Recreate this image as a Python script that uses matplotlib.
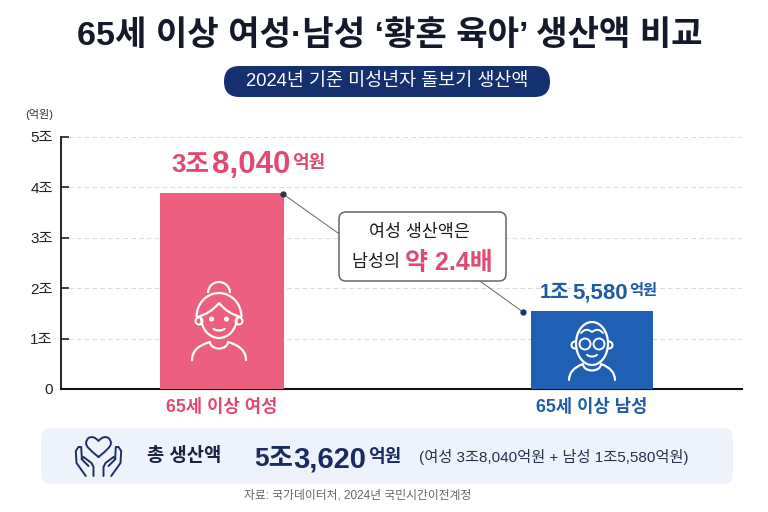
"""65세 이상 여성/남성 황혼 육아 생산액 비교 chart."""

import matplotlib

matplotlib.use("Agg")
import matplotlib.pyplot as plt
from matplotlib.patches import Arc, Circle, Ellipse, FancyBboxPatch, PathPatch
from matplotlib.path import Path

plt.rcParams["font.family"] = ["Liberation Sans", "Noto Sans CJK KR", "DejaVu Sans"]

CATEGORIES = ["65세 이상 여성", "65세 이상 남성"]
# bar heights as drawn in the picture, in 조원
BAR_VALUES = [3.88, 1.55]
Y_TICKS = [0, 1, 2, 3, 4, 5]
Y_TICK_LABELS = ["0", "1조", "2조", "3조", "4조", "5조"]

PINK = "#ec5f7f"
PINK_TEXT = "#e04a70"
BLUE = "#2060b4"
BLUE_TEXT = "#1f5ba6"
NAVY = "#14306f"
DARK = "#141a2a"

W, H = 768, 512
M, L, C = Path.MOVETO, Path.LINETO, Path.CURVE3


def text_runs(ax, x, y, runs):
    """Write (string, size, weight, color) runs one after another from x."""
    renderer = ax.figure.canvas.get_renderer()
    for s, size, weight, color in runs:
        t = ax.text(x, y, s, fontsize=size, fontweight=weight, color=color,
                    ha="left", va="center_baseline", zorder=10)
        box = t.get_window_extent(renderer)
        x += box.width


def curve(ax, verts, codes, color, lw=1.6, zorder=8):
    ax.add_patch(PathPatch(Path(verts, codes), edgecolor=color, facecolor="none",
                           lw=lw, zorder=zorder, capstyle="round", joinstyle="round"))


def shoulders(ax, cx, half, top, bottom, collar, color):
    curve(ax, [(cx - half, bottom), (cx - half, top + 5), (cx - collar, top),
               (cx + collar, top), (cx + half, top + 5), (cx + half, bottom)],
          [M, C, C, M, C, C], color)
    ax.add_patch(Arc((cx, top), collar * 2, 13, theta1=0, theta2=180,
                     color=color, lw=1.6, zorder=8))


def woman_icon(ax, cx, color="white"):
    ax.add_patch(Arc((cx, 293), 22, 22, theta1=180, theta2=360, color=color, lw=1.6, zorder=7))
    ax.add_patch(Arc((cx, 317), 45, 48, theta1=180, theta2=360, color=color, lw=1.6, zorder=8))
    # fringe
    curve(ax, [(cx - 22, 317), (cx - 9, 314), (cx, 303), (cx + 9, 314), (cx + 22, 317)],
          [M, C, C, C, C], color)
    # ears then face
    ax.add_patch(Circle((cx - 20, 321), 3.5, fc=PINK, ec=color, lw=1.4, zorder=7))
    ax.add_patch(Circle((cx + 20, 321), 3.5, fc=PINK, ec=color, lw=1.4, zorder=7))
    ax.add_patch(Arc((cx, 317), 36, 42, theta1=0, theta2=180, color=color, lw=1.6, zorder=8))
    ax.add_patch(Circle((cx - 7.5, 319), 1.8, color=color, zorder=9))
    ax.add_patch(Circle((cx + 7.5, 319), 1.8, color=color, zorder=9))
    ax.add_patch(Arc((cx, 328), 11, 5, theta1=0, theta2=180, color=color, lw=1.6, zorder=9))
    shoulders(ax, cx, 27, 342, 360, 9, color)


def man_icon(ax, cx, color="white"):
    ax.add_patch(Circle((cx - 17, 345), 3.5, fc=BLUE, ec=color, lw=1.5, zorder=7))
    ax.add_patch(Circle((cx + 17, 345), 3.5, fc=BLUE, ec=color, lw=1.5, zorder=7))
    ax.add_patch(Ellipse((cx, 343.5), 32, 43, fc=BLUE, ec=color, lw=1.6, zorder=8))
    curve(ax, [(cx - 11, 333), (cx - 6, 327), (cx, 332), (cx + 6, 327), (cx + 11, 333)],
          [M, C, C, C, C], color, lw=1.4)
    ax.add_patch(Circle((cx - 7, 344), 5.5, fc=BLUE, ec=color, lw=1.4, zorder=9))
    ax.add_patch(Circle((cx + 7, 344), 5.5, fc=BLUE, ec=color, lw=1.4, zorder=9))
    ax.add_patch(Arc((cx, 354), 10, 5, theta1=0, theta2=180, color=color, lw=1.5, zorder=9))
    shoulders(ax, cx, 23, 364, 380, 9, color)


def hands_icon(ax, cx, color="#1f2f66"):
    # heart
    curve(ax, [(cx, 457), (cx - 6, 452), (cx - 10, 448), (cx - 15, 443), (cx - 10, 438),
               (cx - 5, 435), (cx, 441), (cx + 5, 435), (cx + 10, 438), (cx + 15, 443),
               (cx + 10, 448), (cx + 6, 452), (cx, 457)],
          [M, L, L, C, C, C, C, C, C, C, C, L, L], color, lw=1.4)
    # two hands, mirrored about cx
    for sgn in (-1, 1):
        outer = [(5, 476), (5, 467), (7, 463), (15, 457), (17, 459), (10, 466)]
        thumb = [(12.7, 476), (22, 463), (22.7, 451), (20, 447), (17.3, 447), (16.7, 458)]
        for pts in (outer, thumb):
            curve(ax, [(cx + sgn * a, b) for a, b in pts], [M] + [L] * (len(pts) - 1),
                  color, lw=1.4)


fig = plt.figure(figsize=(W / 100, H / 100), dpi=100, facecolor="white")
fig.canvas.draw()

# chart axes: x 61-742 px, y 389-137 px
ax = fig.add_axes([61 / W, 1 - 389 / H, 681 / W, 252 / H], zorder=1)
ax.set_xlim(-0.435, 1.405)
ax.set_ylim(0, 5)
ax.bar([0], BAR_VALUES[0], width=0.335, color=PINK, zorder=3)
ax.bar([1], BAR_VALUES[1], width=0.33, color=BLUE, zorder=3)
ax.set_yticks(Y_TICKS)
ax.set_yticklabels(Y_TICK_LABELS, fontsize=11, color="#222222")
ax.tick_params(axis="y", direction="in", length=6, width=1.2, pad=6, color="#222222")
ax.set_xticks([0, 1])
ax.set_xticklabels(CATEGORIES, fontsize=12.8, fontweight="bold")
ax.get_xticklabels()[0].set_color(PINK_TEXT)
ax.get_xticklabels()[1].set_color(BLUE_TEXT)
ax.tick_params(axis="x", length=0, pad=7)
ax.yaxis.grid(True, color="#dddddd", linestyle=(0, (4, 3)), lw=0.8, zorder=0)
ax.set_axisbelow(True)
for spine in ("top", "right"):
    ax.spines[spine].set_visible(False)
ax.spines["left"].set_linewidth(1.4)
ax.spines["left"].set_color("#222222")
ax.spines["bottom"].set_linewidth(1.5)
ax.spines["bottom"].set_color("#111111")

# full figure layer in pixel coordinates for the infographic parts
bg = fig.add_axes([0, 0, 1, 1], zorder=2)
bg.set_xlim(0, W)
bg.set_ylim(H, 0)
bg.axis("off")

bg.text(39, 115, "(억원)", fontsize=8, color="#333333", ha="center", va="center")

# title and pill
bg.text(390, 36, "65세 이상 여성·남성 ‘황혼 육아’ 생산액 비교", fontsize=24.6,
        fontweight="bold", color=DARK, ha="center", va="center")
bg.add_patch(FancyBboxPatch((224, 66), 326, 31, boxstyle="round,pad=0,rounding_size=15.5",
                            fc=NAVY, ec="none", zorder=3))
bg.text(387, 81.5, "2024년 기준 미성년자 돌보기 생산액", fontsize=13.3, color="white",
        fontweight="medium", ha="center", va="center", zorder=4)

# value labels
text_runs(bg, 171, 162, [("3조", 18.5, "bold", PINK_TEXT), (" ", 8, "bold", PINK_TEXT),
                         ("8,040", 22.5, "bold", PINK_TEXT), (" ", 5, "bold", PINK_TEXT),
                         ("억원", 13, "bold", PINK_TEXT)])
text_runs(bg, 540, 290, [("1조", 14.5, "bold", BLUE_TEXT), (" ", 6, "bold", BLUE_TEXT),
                         ("5,580", 16, "bold", BLUE_TEXT), (" ", 4, "bold", BLUE_TEXT),
                         ("억원", 11, "bold", BLUE_TEXT)])

# callout
bg.plot([283, 345], [194, 238], color="#666666", lw=0.7, zorder=4)
bg.plot([470, 523], [274, 312], color="#666666", lw=0.7, zorder=4)
bg.plot([283], [194], "o", ms=3.5, color="#333344", zorder=5)
bg.plot([523], [312], "o", ms=3.5, color=NAVY, zorder=5)
bg.add_patch(FancyBboxPatch((339, 212), 167, 69, boxstyle="round,pad=0,rounding_size=7",
                            fc="white", ec="#666666", lw=1.1, zorder=6))
bg.text(419, 232, "여성 생산액은", fontsize=12.5, color="#1a1a1a", ha="center",
        va="center", zorder=7)
text_runs(bg, 352, 261, [("남성의 ", 12.5, "normal", "#1a1a1a"), ("약 2.4배", 18, "bold", PINK_TEXT)])

# icons
woman_icon(bg, 219)
man_icon(bg, 592)

# total panel
bg.add_patch(FancyBboxPatch((41, 428), 692, 56, boxstyle="round,pad=0,rounding_size=9",
                            fc="#eef3fb", ec="none", zorder=1))
hands_icon(bg, 98.5)
bg.text(184, 456, "총 생산액", fontsize=13.5, fontweight="bold", color="#1b2440", ha="center",
        va="center", zorder=5)
text_runs(bg, 254, 456, [("5조", 19, "bold", "#1b2a62"), ("3,620", 21, "bold", "#1b2a62"),
                         (" ", 5, "bold", "#1b2a62"), ("억원", 13, "bold", "#1b2a62")])
bg.text(554, 457, "(여성 3조8,040억원 + 남성 1조5,580억원)", fontsize=11, color="#26304f",
        ha="center", va="center", zorder=5)
bg.text(358, 496, "자료: 국가데이터처, 2024년 국민시간이전계정", fontsize=8.5, color="#666666",
        ha="center", va="center", zorder=5)

fig.savefig("out.png", dpi=100)
